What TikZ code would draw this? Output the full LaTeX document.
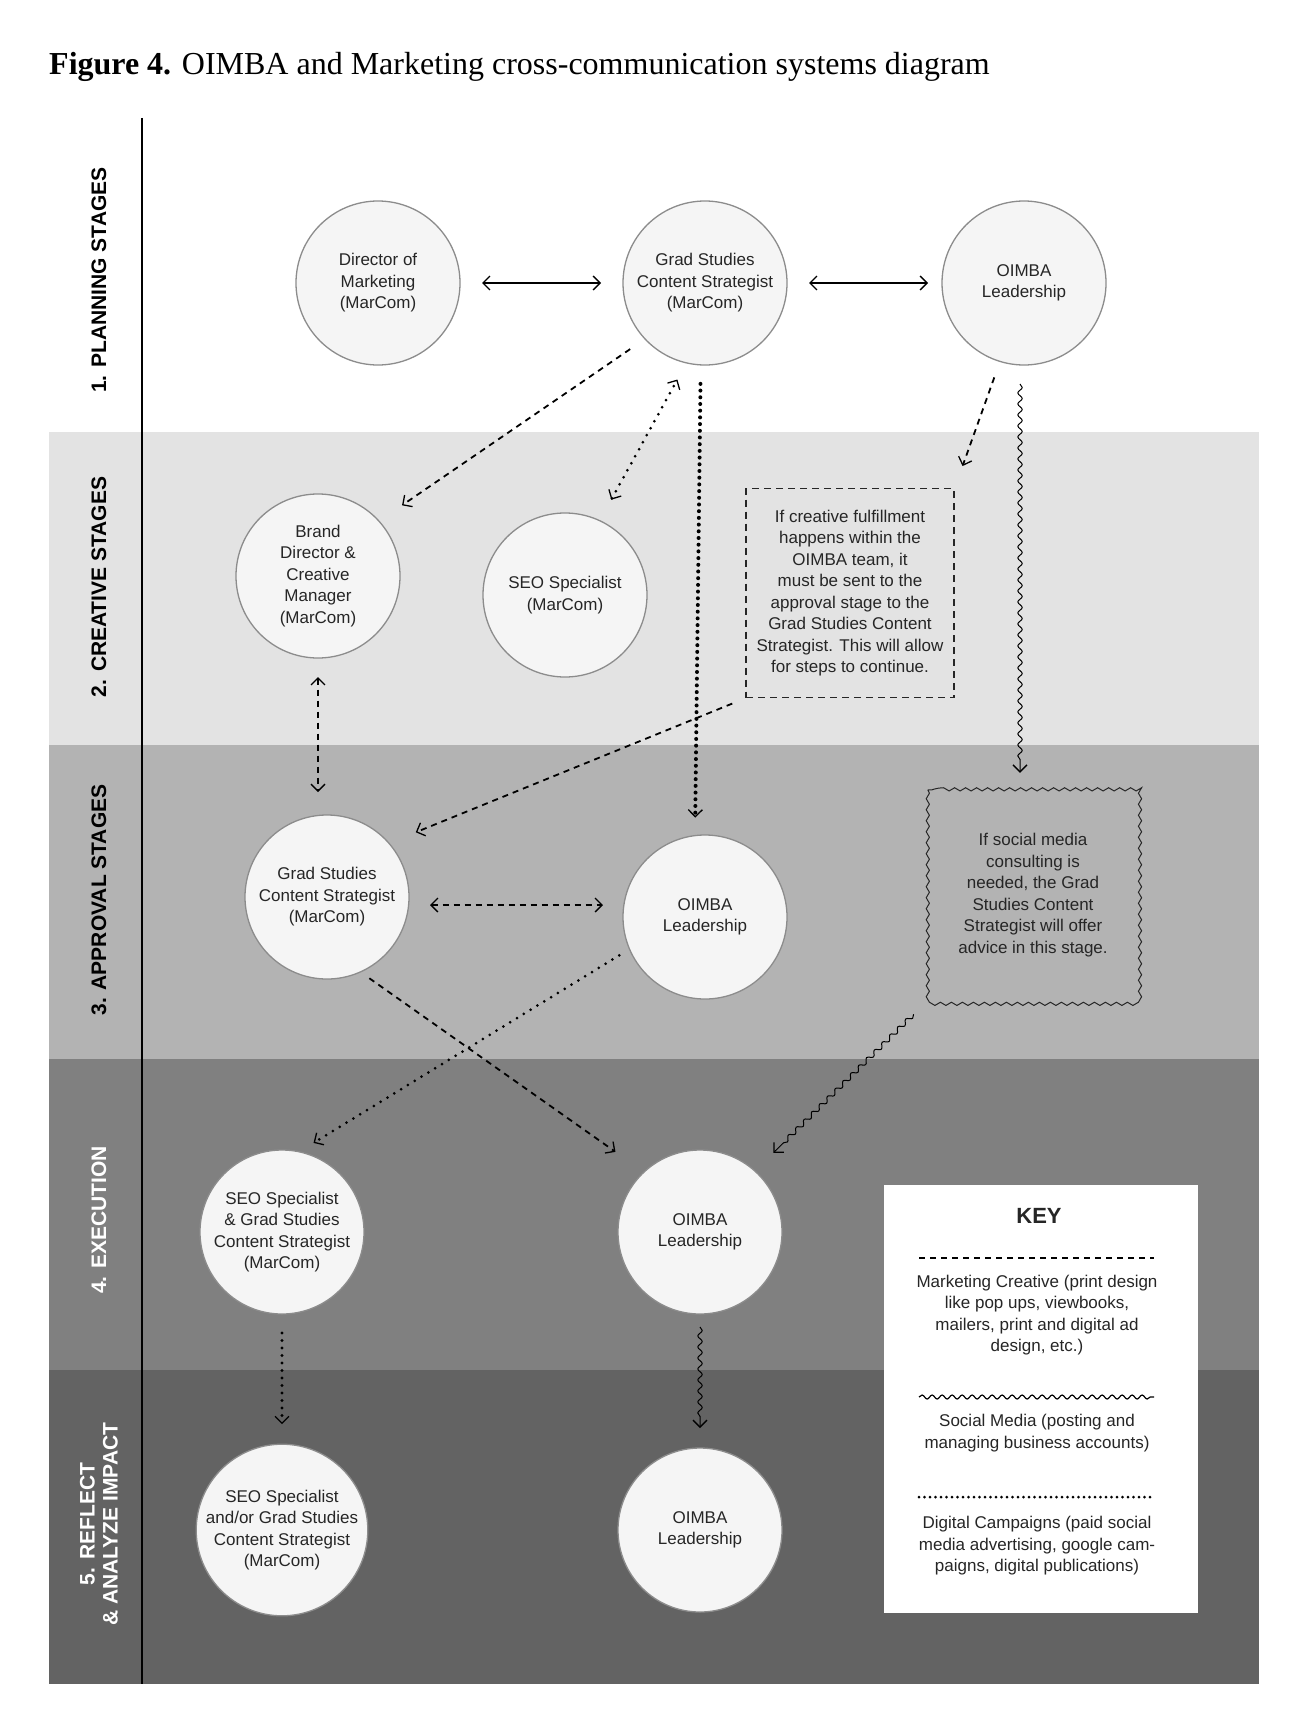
\documentclass[tikz,border=0pt]{standalone}
\usepackage{fontspec}
\setmainfont{Liberation Sans}
\newfontfamily\titlefont{Liberation Serif}
\usetikzlibrary{
    arrows.meta,
    calc,
    decorations.pathmorphing,
    positioning
}
\definecolor{creative}{HTML}{E3E3E3}
\definecolor{approval}{HTML}{B3B3B3}
\definecolor{execution}{HTML}{808080}
\definecolor{reflect}{HTML}{636363}
\definecolor{ring}{HTML}{8C8C8C}
\definecolor{ink}{HTML}{262626}
\tikzset{
    every picture/.style = {
        > = {Straight Barb[length=7pt, width=14pt, line width=1.3pt]}
    },
    person/.style = {
        circle,
        draw = ring,
        line width = 1.3pt,
        fill = white!96!black,
        minimum size = 164pt,
        inner sep = 0pt,
        outer sep = 0pt,
        align = center,
        text = ink,
        font = \fontsize{17}{21.5}\selectfont
    },
    stage/.style = {
        rotate = 90,
        inner sep = 0pt,
        align = center,
        font = \bfseries\fontsize{21}{23}\selectfont
    },
    note/.style = {
        inner sep = 0pt,
        align = center,
        text = ink,
        font = \fontsize{17}{21.5}\selectfont
    },
    dots/.style args = {#1per #2}{%
        line cap=round,
        dash pattern=on 0 off #2/#1
    },
    % line styles of the key
    mc/.style = {line width = 1.8pt, dash pattern = on 6pt off 5pt},
    dc/.style = {line width = 3.2pt, dots = 1 per 7.5pt},
    sm/.style = {
        line width = 1pt,
        decorate,
        decoration = {snake, amplitude = 2.2pt, segment length = 11pt, post length = 9pt}
    }
}

\begin{document}
\begin{tikzpicture}[x = 1pt, y = -1pt]
    \useasboundingbox (0,0) rectangle (1298,1720);
    % stage bands
    \fill[creative] (49,432) rectangle (1259,745);
    \fill[approval] (49,745) rectangle (1259,1059);
    \fill[execution] (49,1059) rectangle (1259,1370);
    \fill[reflect] (49,1370) rectangle (1259,1684);
    \draw[line width = 2.5pt] (142,118) -- (142,1684);

    \node[anchor = base west, inner sep = 0pt, font = \titlefont\fontsize{32}{36}\selectfont] (title) at (49,75)
        {\textbf{Figure 4.} OIMBA and Marketing cross-communication systems diagram};

    \node[stage] (s1) at (99,280) {1. PLANNING STAGES};
    \node[stage] (s2) at (99,587) {2. CREATIVE STAGES};
    \node[stage] (s3) at (99,900) {3. APPROVAL STAGES};
    \node[stage, text = white] (s4) at (99,1220) {4. EXECUTION};
    \node[stage, text = white] (s5) at (99,1524) {5. REFLECT\\\& ANALYZE IMPACT};

    % people
    \node[person] (dirmkt) at (378,283) {Director of\\Marketing\\(MarCom)};
    \node[person] (gscs) at (705,283) {Grad Studies\\Content Strategist\\(MarCom)};
    \node[person] (oimba1) at (1024,283) {OIMBA\\Leadership};
    \node[person] (brand) at (318,576) {Brand\\Director \&\\Creative\\Manager\\(MarCom)};
    \node[person] (seo) at (565,595) {SEO Specialist\\(MarCom)};
    \node[person] (gscs3) at (327,897) {Grad Studies\\Content Strategist\\(MarCom)};
    \node[person] (oimba3) at (705,917) {OIMBA\\Leadership};
    \node[person] (seogs4) at (282,1232) {SEO Specialist\\\& Grad Studies\\Content Strategist\\(MarCom)};
    \node[person] (oimba4) at (700,1232) {OIMBA\\Leadership};
    \node[person] (seogs5) at (282,1530) {SEO Specialist\\and/or Grad Studies\\Content Strategist\\(MarCom)};
    \node[person] (oimba5) at (700,1530) {OIMBA\\Leadership};

    % notes
    \node[note, draw = ink, line width = 1.6pt, dash pattern = on 7pt off 5pt,
        minimum width = 208pt, minimum height = 209pt] (note1) at (850,593)
        {If creative fulfillment\\happens within the\\OIMBA team, it\\must be sent to the\\approval stage to the\\Grad Studies Content\\Strategist. This will allow\\for steps to continue.};
    \node[note, minimum width = 210pt, minimum height = 210pt] (note3) at (1033,895)
        {If social media\\consulting is\\needed, the Grad\\Studies Content\\Strategist will offer\\advice in this stage.};
    \draw[ink, line width = 1pt, decorate, decoration = {snake, amplitude = 1.6pt, segment length = 11pt}]
        (note3.north west) rectangle (note3.south east);

    % connectors
    \draw[<->, line width = 1.6pt, shorten <= 22pt, shorten >= 22pt] (dirmkt) -- (gscs);
    \draw[<->, line width = 1.6pt, shorten <= 22pt, shorten >= 14pt] (gscs) -- (oimba1);
    \draw[->, mc, shorten <= 18pt, shorten >= 28pt] (gscs.223) -- (brand.42);
    \draw[<->, dc, line width = 3pt, dots = 1 per 8pt, shorten <= 24pt, shorten >= 19pt] (seo.65) -- (gscs.257);
    \draw[->, dc, line width = 4pt, dots = 1 per 6.7pt, shorten <= 19pt, shorten >= 18pt] (gscs.267) -- (oimba3.97);
    \draw[->, mc, shorten <= 17pt, shorten >= 23pt] (oimba1.253) -- (note1.north east);
    \draw[->, sm] ($(oimba1.south)+(-4,19)$) -- ($(oimba1.south |- note3.north)+(-4,-17)$);
    \draw[->, mc, shorten <= 14pt, shorten >= 29pt] (note1.south west) -- (gscs3.41);
    \draw[<->, mc, shorten <= 19pt, shorten >= 23pt] (brand.south) -- (brand.south |- gscs3.north);
    \draw[<->, mc] ($(gscs3.east)+(21,8)$) -- ($(oimba3.west |- gscs3.east)+(-20,8)$);
    \draw[->, mc, shorten <= 11pt, shorten >= 35pt] (gscs3.-66) -- (oimba4.133);
    \draw[->, dc, line width = 3pt, dots = 1 per 8pt, shorten <= 12pt, shorten >= 17pt] (oimba3.203) -- (seogs4.78);
    \draw[->, sm] ($(note3.south west)!20pt!(oimba4.48)$) -- ($(oimba4.48)!26pt!(note3.south west)$);
    \draw[->, dc, line width = 3.4pt, shorten <= 19pt, shorten >= 20pt] (seogs4) -- (seogs5);
    \draw[->, sm] ($(oimba4.south)+(0,13)$) -- ($(oimba5.north)+(0,-20)$);

    % key
    \node[fill = white, minimum width = 314pt, minimum height = 428pt, inner sep = 0pt] (key) at (1041,1399) {};
    \node[note, font = \bfseries\fontsize{22}{24}\selectfont] (keyhead) at (1039,1216) {KEY};
    \draw[mc] (919,1258) -- (1154,1258);
    \node[note] (keymc) at (1037,1315) {Marketing Creative (print design\\like pop ups, viewbooks,\\mailers, print and digital ad\\design, etc.)};
    \draw[sm, line width = 1.2pt, decoration = {snake, amplitude = 2pt, segment length = 10pt, post length = 0pt}] (919,1397) -- (1154,1397);
    \node[note] (keysm) at (1037,1433) {Social Media (posting and\\managing business accounts)};
    \draw[dc, line width = 3pt, dots = 1 per 5.5pt] (919,1497) -- (1154,1497);
    \node[note] (keydc) at (1037,1546) {Digital Campaigns (paid social\\media advertising, google cam-\\paigns, digital publications)};
\end{tikzpicture}
\end{document}
